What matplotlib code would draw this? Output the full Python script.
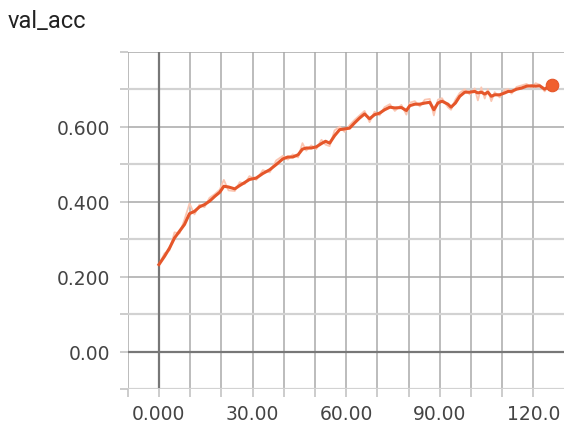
import matplotlib
matplotlib.use("Agg")
import matplotlib.pyplot as plt
import numpy as np

title = "val_acc"

epochs = [0, 1.8, 3.4, 5.0, 6.6, 8.2, 9.8, 11.4, 13.0, 14.6,
          16.2, 17.9, 19.5, 20.8, 22.3, 24.3, 25.9, 27.5, 29.0, 31.2,
          33.3, 35.5, 37.6, 39.7, 41.3, 42.9, 44.6, 46.0, 47.2, 48.8,
          50.4, 52.1, 53.4, 54.7, 56.3, 57.9, 59.5, 61.1, 62.7, 64.3,
          65.9, 67.5, 69.1, 70.7, 72.3, 74.0, 75.6, 77.7, 79.3, 80.4,
          82.0, 83.6, 85.2, 86.8, 88.1, 89.4, 90.7, 92.6, 93.6, 95.0,
          96.4, 98.0, 99.6, 101.2, 102.2, 103.3, 104.4, 105.4, 106.5, 107.6,
          109.2, 110.8, 111.9, 113.0, 114.6, 116.2, 117.8, 119.4, 120.7, 122.0,
          123.6, 125.2, 126.1]

smoothed = [0.232, 0.254, 0.276, 0.303, 0.321, 0.339, 0.368, 0.374, 0.386, 0.392,
            0.401, 0.414, 0.425, 0.441, 0.439, 0.434, 0.443, 0.451, 0.459, 0.463,
            0.475, 0.485, 0.499, 0.514, 0.519, 0.519, 0.525, 0.540, 0.543, 0.543,
            0.546, 0.555, 0.561, 0.556, 0.576, 0.592, 0.594, 0.596, 0.610, 0.623,
            0.634, 0.621, 0.632, 0.636, 0.645, 0.652, 0.650, 0.651, 0.643, 0.656,
            0.660, 0.660, 0.663, 0.665, 0.645, 0.663, 0.668, 0.660, 0.652, 0.663,
            0.681, 0.692, 0.692, 0.694, 0.690, 0.692, 0.687, 0.692, 0.681, 0.685,
            0.685, 0.690, 0.694, 0.694, 0.700, 0.703, 0.708, 0.709, 0.708, 0.709,
            0.700, 0.709, 0.712]

raw = [0.232, 0.262, 0.270, 0.318, 0.315, 0.352, 0.395, 0.366, 0.392, 0.385,
       0.410, 0.420, 0.432, 0.458, 0.430, 0.428, 0.452, 0.447, 0.468, 0.458,
       0.484, 0.478, 0.510, 0.522, 0.512, 0.526, 0.518, 0.556, 0.536, 0.550,
       0.540, 0.565, 0.552, 0.548, 0.590, 0.600, 0.586, 0.604, 0.618, 0.630,
       0.642, 0.612, 0.640, 0.630, 0.652, 0.660, 0.642, 0.658, 0.632, 0.664,
       0.668, 0.654, 0.672, 0.674, 0.630, 0.672, 0.676, 0.652, 0.645, 0.672,
       0.690, 0.700, 0.686, 0.702, 0.670, 0.705, 0.675, 0.700, 0.668, 0.692,
       0.678, 0.698, 0.700, 0.688, 0.706, 0.710, 0.714, 0.704, 0.716, 0.712,
       0.694, 0.714, 0.712]

x_ticks = [-10, 0, 10, 20, 30, 40, 50, 60, 70, 80, 90, 100, 110, 120]
x_labels = {0: "0.000", 30: "30.00", 60: "60.00", 90: "90.00", 120: "120.0"}
y_ticks = [-0.1, 0.0, 0.1, 0.2, 0.3, 0.4, 0.5, 0.6, 0.7, 0.8]
y_labels = {0.0: "0.00", 0.2: "0.200", 0.4: "0.400", 0.6: "0.600"}

W, H = 564, 431
fig = plt.figure(figsize=(W / 100, H / 100), dpi=100)
left_px, right_px, top_px, bot_px = 127.7, 564, 52.7, 390
ax = fig.add_axes([left_px / W, 1 - bot_px / H, (right_px - left_px) / W, (bot_px - top_px) / H])
ax.set_xlim(-10, 129.8)
ax.set_ylim(-0.1, 0.8)

for s in ax.spines.values():
    s.set_visible(False)

ax.set_xticks(x_ticks)
ax.set_xticklabels([x_labels.get(t, "") for t in x_ticks])
ax.set_yticks(y_ticks)
ax.set_yticklabels([y_labels.get(round(t, 1), "") for t in y_ticks])
ax.tick_params(axis="both", length=5.8, width=1.2, color="#c4c4c4",
               labelsize=13.5, labelcolor="#444444")
ax.tick_params(axis="x", pad=5)
ax.tick_params(axis="y", pad=7)

# grid
for t in x_ticks:
    ax.axvline(t, color="#aaaaaa", lw=1.1, zorder=0)
for t in y_ticks:
    major = abs(round(t * 10)) % 2 == 0
    ax.axhline(t, color="#a8a8a8" if major else "#d2d2d2",
               lw=1.1 if major else 1.6, zorder=0)

# axis lines
ax.axvline(0, ymin=0.006, color="#777777", lw=1.6, zorder=1)
ax.axhline(0, color="#777777", lw=1.6, zorder=1)

ax.plot(epochs, raw, color="#fbc6b2", lw=1.3, zorder=2)
ax.plot(epochs, smoothed, color="#e5562a", lw=2.2, zorder=3)
ax.plot([epochs[-1]], [smoothed[-1]], "o", color="#f0602e", markersize=9,
        markeredgecolor="#e5562a", markeredgewidth=0.8, zorder=4)

fig.text(8 / W, 1 - 21 / H, title, fontsize=17, family=["Roboto", "DejaVu Sans"],
         color="#222222", va="center", ha="left")

fig.savefig("out.png", dpi=100)
